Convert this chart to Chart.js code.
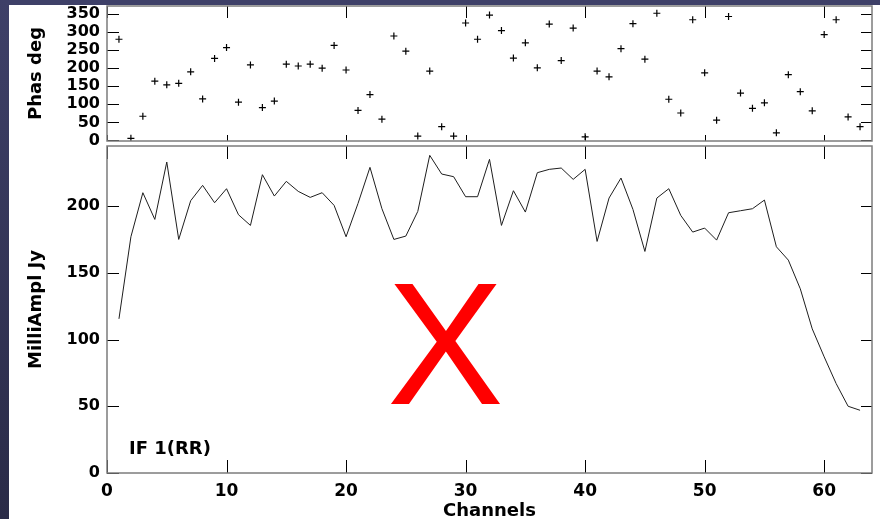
<!DOCTYPE html>
<html>
<head>
<meta charset="utf-8">
<script src="https://cdn.jsdelivr.net/npm/chart.js@4.4.1/dist/chart.umd.min.js"></script>
<style>
    html, body { margin: 0; padding: 0; }
    body { width: 880px; height: 519px; overflow: hidden; background: #ffffff; position: relative; }
    #edge-top { position: absolute; left: 0; top: 0; width: 880px; height: 5px; background: #3e4068; }
    #edge-left { position: absolute; left: 0; top: 0; width: 9px; height: 519px;
        background: linear-gradient(#3e4068, #2a2b47); }
    canvas { position: absolute; left: 0; }
    #phase-chart { top: 0; }
    #ampl-chart { top: 141px; }
</style>
</head>
<body>
<div id="edge-top"></div>
<div id="edge-left"></div>
<canvas id="phase-chart" width="880" height="165"></canvas>
<canvas id="ampl-chart" width="880" height="385"></canvas>
<script>
const channels = [
    1, 2, 3, 4, 5, 6, 7, 8, 9, 10, 11, 12, 13, 14, 15, 16,
    17, 18, 19, 20, 21, 22, 23, 24, 25, 26, 27, 28, 29, 30, 31, 32,
    33, 34, 35, 36, 37, 38, 39, 40, 41, 42, 43, 44, 45, 46, 47, 48,
    49, 50, 51, 52, 53, 54, 55, 56, 57, 58, 59, 60, 61, 62, 63
];

// phase per channel, degrees
const phaseDeg = [
    280, 6, 67, 164, 154, 158, 190, 115, 227, 257, 106, 209, 91, 109, 211, 206,
    211, 200, 263, 195, 83, 127, 59, 289, 247, 12, 192, 38, 12, 325, 280, 347,
    304, 228, 270, 201, 322, 221, 311, 10, 192, 176, 254, 323, 225, 352, 114, 76,
    334, 187, 56, 343, 131, 89, 104, 21, 182, 135, 82, 293, 334, 65, 38
];

// amplitude per channel, milli-Jy
const amplMJy = [
    115.5, 177, 210, 190, 233, 175, 204, 215.5, 202.5, 213, 193.5, 185.5, 223.5, 207.5, 218.5, 211,
    206.5, 210, 200.5, 177, 202, 229, 198, 175, 177.5, 196, 238, 224, 222, 207, 207, 235,
    185.5, 211.5, 195.5, 225, 227.5, 228.5, 220, 227.5, 173.5, 206, 221, 197.5, 166, 206, 213, 193,
    180.5, 183.5, 174.5, 195, 196.5, 198, 204.5, 169.5, 159.5, 138, 108, 87, 67, 50, 47
];

const channelTicks = [0, 10, 20, 30, 40, 50, 60];
const phaseTicks = [0, 50, 100, 150, 200, 250, 300, 350];
const amplTicks = [0, 50, 100, 150, 200];

const ifLabel = 'IF 1(RR)';
const stampText = 'X';

const FONT = "'DejaVu Sans', sans-serif";
const AXIS_W = 107;

// box around the plot area with short inward tick marks on all sides
const frameTicks = {
    id: 'frameTicks',
    afterDraw(chart, args, opts) {
        const { ctx, chartArea: a, scales } = chart;
        ctx.save();
        ctx.strokeStyle = '#000';
        ctx.lineWidth = 1;
        ctx.beginPath();
        channelTicks.forEach(v => {
            const px = Math.round(scales.x.getPixelForValue(v)) + 0.5;
            ctx.moveTo(px, a.top);
            ctx.lineTo(px, a.top + opts.top);
            ctx.moveTo(px, a.bottom);
            ctx.lineTo(px, a.bottom - opts.bottom);
        });
        opts.yTicks.forEach(v => {
            const py = Math.round(scales.y.getPixelForValue(v)) + 0.5;
            ctx.moveTo(a.left, py);
            ctx.lineTo(a.left + opts.left, py);
            ctx.moveTo(a.right, py);
            ctx.lineTo(a.right - opts.right, py);
        });
        ctx.stroke();
        ctx.strokeStyle = '#7c7c7c';
        ctx.lineWidth = 1.5;
        ctx.strokeRect(a.left, a.top, a.right - a.left, a.bottom - a.top);
        ctx.restore();
    }
};

// IF label and the big red stamp on the amplitude panel
const panelText = {
    id: 'panelText',
    afterDatasetsDraw(chart) {
        const { ctx, scales } = chart;
        ctx.save();
        ctx.fillStyle = '#000';
        ctx.font = `bold 18px ${FONT}`;
        ctx.textAlign = 'left';
        ctx.textBaseline = 'alphabetic';
        ctx.fillText(ifLabel, scales.x.getPixelForValue(1.84), scales.y.getPixelForValue(14.2));

        ctx.fillStyle = '#ff0000';
        ctx.font = "175px 'Liberation Sans', Arial, sans-serif";
        ctx.textAlign = 'center';
        ctx.fillText(stampText, scales.x.getPixelForValue(28.3), scales.y.getPixelForValue(52));
        ctx.restore();
    }
};

function xScale(showLabels) {
    return {
        type: 'linear',
        min: 0,
        max: 64,
        grid: { display: false, drawTicks: false },
        border: { display: false },
        afterBuildTicks: s => { s.ticks = channelTicks.map(v => ({ value: v })); },
        ticks: {
            display: showLabels,
            autoSkip: false,
            color: '#000',
            padding: 8,
            maxRotation: 0,
            font: { family: FONT, size: 17, weight: 'bold' }
        },
        title: {
            display: showLabels,
            text: 'Channels',
            color: '#000',
            font: { family: FONT, size: 18, weight: 'bold' },
            padding: { top: 0, bottom: 3.5 }
        },
        afterFit: s => {
            s.height = showLabels ? 53 : 0;
            s.paddingLeft = 0;
            s.paddingRight = 0;
        }
    };
}

function yScale(min, max, tickList, label) {
    return {
        type: 'linear',
        min: min,
        max: max,
        grid: { display: false, drawTicks: false },
        border: { display: false },
        afterBuildTicks: s => { s.ticks = tickList.map(v => ({ value: v })); },
        ticks: {
            autoSkip: false,
            color: '#000',
            padding: 7,
            font: { family: FONT, size: 16, weight: 'bold' }
        },
        title: {
            display: true,
            text: label,
            color: '#000',
            font: { family: FONT, size: 18, weight: 'bold' },
            padding: { top: 26, bottom: 0 }
        },
        afterFit: s => {
            s.width = AXIS_W;
            s.paddingTop = 0;
            s.paddingBottom = 0;
        }
    };
}

const common = {
    responsive: false,
    animation: false,
    devicePixelRatio: 1,
    plugins: { legend: { display: false }, tooltip: { enabled: false } }
};

new Chart(document.getElementById('phase-chart'), {
    type: 'scatter',
    data: {
        datasets: [{
            data: channels.map((c, i) => ({ x: c, y: phaseDeg[i] })),
            pointStyle: 'cross',
            pointRadius: 3.5,
            borderColor: '#000',
            borderWidth: 1.2
        }]
    },
    options: {
        ...common,
        layout: { padding: { top: 6, right: 8, bottom: 24, left: 0 } },
        scales: {
            x: xScale(false),
            y: yScale(-1.5, 372, phaseTicks, 'Phas deg')
        },
        plugins: {
            ...common.plugins,
            frameTicks: { top: 12, bottom: 6, left: 12, right: 11, yTicks: phaseTicks }
        }
    },
    plugins: [frameTicks]
});

new Chart(document.getElementById('ampl-chart'), {
    type: 'line',
    data: {
        datasets: [{
            data: channels.map((c, i) => ({ x: c, y: amplMJy[i] })),
            borderColor: '#1e1e1e',
            borderWidth: 1,
            pointRadius: 0,
            tension: 0,
            fill: false
        }]
    },
    options: {
        ...common,
        layout: { padding: { top: 5, right: 8, bottom: 0, left: 0 } },
        scales: {
            x: xScale(true),
            y: yScale(0, 245, amplTicks, 'MilliAmpl Jy')
        },
        plugins: {
            ...common.plugins,
            frameTicks: { top: 13, bottom: 13, left: 12, right: 11, yTicks: amplTicks }
        }
    },
    plugins: [frameTicks, panelText]
});
</script>
</body>
</html>
